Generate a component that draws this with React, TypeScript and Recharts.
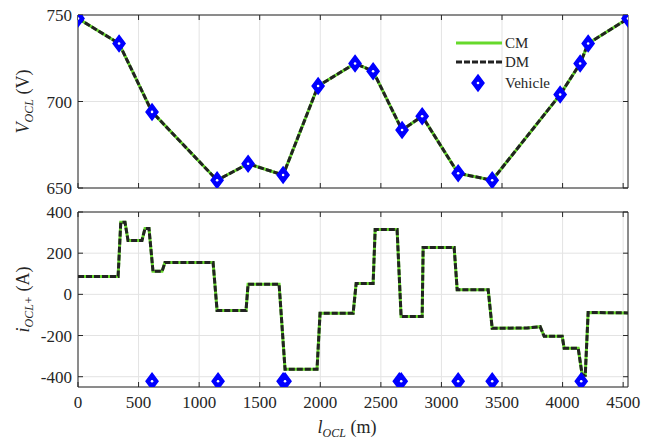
import React from "react"
import { ComposedChart, Line, Scatter, XAxis, YAxis, CartesianGrid } from "recharts"

// x ticks shared by both panels (m)
const xTicks = [0, 500, 1000, 1500, 2000, 2500, 3000, 3500, 4000, 4500]
const voltTicks = [650, 700, 750]
const currTicks = [-400, -200, 0, 200, 400]

// overhead contact line voltage along the line
const voltPosM = [0, 339, 611, 1148, 1404, 1693, 1982, 2287, 2436, 2675, 2841, 3138, 3419, 3980, 4145, 4211, 4540]
const voltV = [748, 733.5, 694, 654.5, 664, 657.5, 709, 722, 717.5, 683.5, 691.5, 658.5, 654.5, 704, 722, 733.5, 748]

// positive-rail current along the line
const currPosM = [
  0, 331, 353, 388, 413, 528, 553, 586, 619, 694, 718, 1115, 1148, 1387, 1404, 1660, 1709, 1973, 1998, 2271,
  2296, 2436, 2453, 2634, 2667, 2841, 2849, 3105, 3130, 3386, 3419, 3708, 3815, 3848, 3997, 4013, 4129, 4162,
  4187, 4211, 4540,
]
const currA = [
  87, 87, 350, 350, 262, 262, 320, 320, 112, 112, 155, 155, -78, -78, 49, 49, -364, -364, -92, -92,
  53, 53, 315, 315, -107, -107, 228, 228, 22, 22, -165, -163, -157, -204, -204, -262, -262, -393,
  -393, -88, -90,
]

// vehicle positions, drawn at the bottom of the current panel
const vehiclePosM = [611, 1156, 1693, 1709, 2652, 2668, 3138, 3419, 4154]
const vehicleA = [-422, -422, -422, -422, -422, -422, -422, -422, -422]

const X_MAX = 4540
const FONT = "'Liberation Serif', serif"
const TXT = "#262626"
const GREEN = "#66d92b"
const DARK = "#222222"
const BLUE = "#0000ff"
const GRID = "#e3e3e3"

const voltData = voltPosM.map((x, y) => ({ x, y: voltV[y] }))
const currData = currPosM.map((x, y) => ({ x, y: currA[y] }))
const vehicleData = vehiclePosM.map((x, k) => ({ x, y: vehicleA[k] }))

const tickStyle = { fontFamily: FONT, fontSize: 17, fill: TXT }
const blank = () => ""
const axisLine = { stroke: TXT, strokeWidth: 1 }

function Diamond({ cx, cy }: { cx?: number; cy?: number }) {
  if (cx == null || cy == null) return null
  return (
    <g>
      <polygon
        points={`${cx},${cy - 8} ${cx + 6},${cy} ${cx},${cy + 8} ${cx - 6},${cy}`}
        fill={BLUE}
        stroke={BLUE}
        strokeWidth={1.5}
      />
      <circle cx={cx} cy={cy} r={1.3} fill="#fff" />
    </g>
  )
}

function LegendBox() {
  const text = { fontSize: 15, fill: TXT, fontFamily: FONT }
  return (
    <svg width={130} height={66} style={{ display: "block" }}>
      <line x1={4} y1={13} x2={50} y2={13} stroke={GREEN} strokeWidth={3} />
      <text x={53} y={18} {...text}>CM</text>
      <line x1={4} y1={32} x2={50} y2={32} stroke={DARK} strokeWidth={3} strokeDasharray="6 2" />
      <text x={53} y={37} {...text}>DM</text>
      <Diamond cx={26} cy={53} />
      <text x={53} y={58} {...text}>Vehicle</text>
    </svg>
  )
}

function yLabel(main: string, sub: string, unit: string) {
  return (props: any) => {
    const vb = props.viewBox
    const cy = vb.y + vb.height / 2
    const x = 29
    return (
      <text x={x} y={cy} transform={`rotate(-90, ${x}, ${cy})`} textAnchor="middle" fontSize={18} fill={TXT} fontFamily={FONT}>
        <tspan fontStyle="italic">{main}</tspan>
        <tspan fontStyle="italic" fontSize={12} dy={4}>{sub}</tspan>
        <tspan dy={-4}>{` (${unit})`}</tspan>
      </text>
    )
  }
}

function xLabel(props: any) {
  const vb = props.viewBox
  const cx = vb.x + vb.width / 2 - 6
  return (
    <text x={cx} y={vb.y + 46} textAnchor="middle" fontSize={18} fill={TXT} fontFamily={FONT}>
      <tspan fontStyle="italic">l</tspan>
      <tspan fontStyle="italic" fontSize={12} dy={4}>OCL</tspan>
      <tspan dy={-4}> (m)</tspan>
    </text>
  )
}

interface PanelProps {
  data: { x: number; y: number }[]
  markers: { x: number; y: number }[]
  height: number
  marginTop: number
  marginBottom: number
  xAxisHeight: number
  showXLabels: boolean
  yDomain: [number, number]
  yTicks: number[]
  yLabelNode: (p: any) => React.ReactNode
}

function Panel(p: PanelProps) {
  return (
    <ComposedChart width={657} height={p.height} data={p.data} margin={{ top: p.marginTop, right: 28, bottom: p.marginBottom, left: 0 }}>
      <CartesianGrid stroke={GRID} />
      <XAxis
        type="number"
        dataKey="x"
        domain={[0, X_MAX]}
        ticks={xTicks}
        interval={0}
        allowDataOverflow
        height={p.xAxisHeight}
        tickSize={-5}
        tickMargin={14}
        tick={tickStyle}
        tickFormatter={p.showXLabels ? undefined : blank}
        axisLine={axisLine}
        tickLine={axisLine}
        label={p.showXLabels ? xLabel : undefined}
      />
      <XAxis
        xAxisId="top"
        orientation="top"
        type="number"
        dataKey="x"
        domain={[0, X_MAX]}
        ticks={xTicks}
        interval={0}
        allowDataOverflow
        height={1}
        tickFormatter={blank}
        tickSize={-5}
        axisLine={axisLine}
        tickLine={axisLine}
      />
      <YAxis
        type="number"
        domain={p.yDomain}
        ticks={p.yTicks}
        interval={0}
        allowDataOverflow
        width={78}
        tickSize={-5}
        tickMargin={11}
        tick={tickStyle}
        axisLine={axisLine}
        tickLine={axisLine}
        label={p.yLabelNode}
      />
      <YAxis
        yAxisId="right"
        orientation="right"
        type="number"
        domain={p.yDomain}
        ticks={p.yTicks}
        interval={0}
        allowDataOverflow
        width={1}
        tickFormatter={blank}
        tickSize={-5}
        axisLine={axisLine}
        tickLine={axisLine}
      />
      <Line dataKey="y" stroke={GREEN} strokeWidth={3} dot={false} activeDot={false} isAnimationActive={false} />
      <Line dataKey="y" stroke={DARK} strokeWidth={3} strokeDasharray="6 2" dot={false} activeDot={false} isAnimationActive={false} />
      <Scatter data={p.markers} dataKey="y" shape={(s: any) => <Diamond cx={s.cx} cy={s.cy} />} isAnimationActive={false} />
    </ComposedChart>
  )
}

export default function App() {
  return (
    <div style={{ position: "absolute", left: 0, top: 0, width: 657, height: 441, background: "#fff", fontFamily: FONT }}>
      <div style={{ position: "absolute", left: 0, top: 195 }}>
        <Panel
          data={currData}
          markers={vehicleData}
          height={246}
          marginTop={16}
          marginBottom={0}
          xAxisHeight={54}
          showXLabels
          yDomain={[-450, 400]}
          yTicks={currTicks}
          yLabelNode={yLabel("i", "OCL+", "A")}
        />
      </div>
      <div style={{ position: "absolute", left: 0, top: 0 }}>
        <Panel
          data={voltData}
          markers={[]}
          height={205}
          marginTop={14}
          marginBottom={6}
          xAxisHeight={11}
          showXLabels={false}
          yDomain={[650, 750]}
          yTicks={voltTicks}
          yLabelNode={yLabel("V", "OCL", "V")}
        />
      </div>
      <div style={{ position: "absolute", left: 452, top: 30 }}>
        <LegendBox />
      </div>
    </div>
  )
}
